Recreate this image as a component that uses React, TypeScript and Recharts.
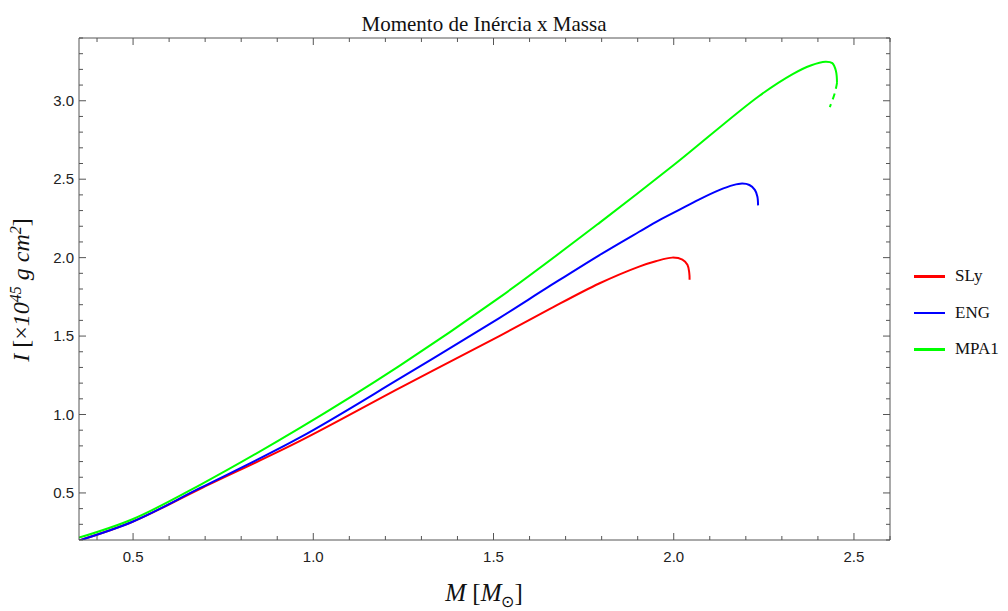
import React from 'react';
import { LineChart, Line, XAxis, YAxis, Label } from 'recharts';

// Tick values (major ticks carry labels)
const xTicks = [0.4, 0.5, 0.6, 0.7, 0.8, 0.9, 1.0, 1.1, 1.2, 1.3, 1.4, 1.5, 1.6, 1.7, 1.8, 1.9, 2.0, 2.1, 2.2, 2.3, 2.4, 2.5, 2.6];
const xMajor = [0.5, 1.0, 1.5, 2.0, 2.5];
const yTicks = [0.2, 0.3, 0.4, 0.5, 0.6, 0.7, 0.8, 0.9, 1.0, 1.1, 1.2, 1.3, 1.4, 1.5, 1.6, 1.7, 1.8, 1.9, 2.0, 2.1, 2.2, 2.3, 2.4, 2.5, 2.6, 2.7, 2.8, 2.9, 3.0, 3.1, 3.2, 3.3, 3.4];
const yMajor = [0.5, 1.0, 1.5, 2.0, 2.5, 3.0];

// SLy
const slyMass = [0.35, 0.5, 0.685, 0.962, 1.239, 1.516, 1.65, 1.793, 1.904, 1.95, 1.996, 2.024, 2.038, 2.043, 2.044];
const slyInertia = [0.197, 0.318, 0.525, 0.83, 1.168, 1.5, 1.665, 1.835, 1.943, 1.977, 2.0, 1.988, 1.955, 1.905, 1.859];

// ENG
const engMass = [0.35, 0.5, 0.685, 0.962, 1.239, 1.516, 1.65, 1.793, 1.904, 1.959, 2.015, 2.07, 2.126, 2.165, 2.19, 2.21, 2.225, 2.232, 2.234];
const engInertia = [0.197, 0.318, 0.53, 0.852, 1.228, 1.615, 1.81, 2.015, 2.165, 2.238, 2.305, 2.37, 2.43, 2.462, 2.472, 2.463, 2.432, 2.39, 2.333];

// MPA1
const mpaMass = [0.35, 0.5, 0.685, 0.962, 1.239, 1.516, 1.793, 2.0, 2.236, 2.33, 2.38, 2.421, 2.44, 2.45, 2.453];
const mpaInertia = [0.215, 0.334, 0.55, 0.913, 1.31, 1.745, 2.22, 2.59, 3.029, 3.17, 3.225, 3.249, 3.24, 3.19, 3.114];
// MPA1 dashed tail
const mpaTailMass = [2.453, 2.447, 2.433];
const mpaTailInertia = [3.114, 3.05, 2.959];

const legendNames = ['SLy', 'ENG', 'MPA1'];
const colors = ['#ff0000', '#0000ff', '#00ff00'];

const zip = (ms: number[], is: number[]) => ms.map((m, k) => ({ m, i: is[k] }));
const slyData = zip(slyMass, slyInertia);
const engData = zip(engMass, engInertia);
const mpaData = zip(mpaMass, mpaInertia);
const mpaTail = zip(mpaTailMass, mpaTailInertia);

// Centripetal Catmull-Rom curve factory (works for parametric curves that turn back)
function centripetal(context: any) {
  let pts: number[][] = [];
  return {
    areaStart() {},
    areaEnd() {},
    lineStart() {
      pts = [];
    },
    point(x: number, y: number) {
      pts.push([+x, +y]);
    },
    lineEnd() {
      const n = pts.length;
      if (!n) return;
      context.moveTo(pts[0][0], pts[0][1]);
      if (n === 1) return;
      if (n === 2) {
        context.lineTo(pts[1][0], pts[1][1]);
        return;
      }
      const dist = (a: number[], b: number[]) => Math.sqrt(Math.hypot(b[0] - a[0], b[1] - a[1]));
      for (let k = 0; k < n - 1; k++) {
        const p0 = pts[k === 0 ? 0 : k - 1];
        const p1 = pts[k];
        const p2 = pts[k + 1];
        const p3 = pts[k + 2 < n ? k + 2 : n - 1];
        const l01 = dist(p0, p1);
        const l12 = dist(p1, p2);
        const l23 = dist(p2, p3);
        let c1x = p1[0], c1y = p1[1], c2x = p2[0], c2y = p2[1];
        if (l01 > 1e-9) {
          const a = 2 * l01 * l01 + 3 * l01 * l12 + l12 * l12;
          const m = 3 * l01 * (l01 + l12);
          c1x = (p1[0] * a - p0[0] * l12 * l12 + p2[0] * l01 * l01) / m;
          c1y = (p1[1] * a - p0[1] * l12 * l12 + p2[1] * l01 * l01) / m;
        }
        if (l23 > 1e-9) {
          const b = 2 * l23 * l23 + 3 * l23 * l12 + l12 * l12;
          const m = 3 * l23 * (l23 + l12);
          c2x = (p2[0] * b + p1[0] * l23 * l23 - p3[0] * l12 * l12) / m;
          c2y = (p2[1] * b + p1[1] * l23 * l23 - p3[1] * l12 * l12) / m;
        }
        context.bezierCurveTo(c1x, c1y, c2x, c2y, p2[0], p2[1]);
      }
    },
  };
}

const FRAME = '#555';
const isIn = (v: number, arr: number[]) => arr.some((a) => Math.abs(a - v) < 1e-6);

const makeTick = (orient: string, majors: number[]) => (props: any) => {
  const { x, y, payload } = props;
  const v = payload.value;
  const major = isIn(v, majors);
  const len = major ? 7 : 4;
  let line = null;
  let text = null;
  const tstyle = { fontFamily: '"Liberation Sans", Arial, sans-serif', fontSize: 15, fill: '#222' };
  if (orient === 'bottom') {
    line = <line x1={x} y1={y} x2={x} y2={y - len} stroke={FRAME} strokeWidth={1} />;
    if (major) text = <text x={x} y={y + 22} textAnchor="middle" style={tstyle}>{v.toFixed(1)}</text>;
  } else if (orient === 'top') {
    line = <line x1={x} y1={y} x2={x} y2={y + len} stroke={FRAME} strokeWidth={1} />;
  } else if (orient === 'left') {
    line = <line x1={x} y1={y} x2={x + len} y2={y} stroke={FRAME} strokeWidth={1} />;
    if (major) text = <text x={x - 5} y={y + 5} textAnchor="end" style={tstyle}>{v.toFixed(1)}</text>;
  } else {
    line = <line x1={x} y1={y} x2={x - len} y2={y} stroke={FRAME} strokeWidth={1} />;
  }
  return (
    <g>
      {line}
      {text}
    </g>
  );
};

const serif = '"Liberation Serif", "Times New Roman", serif';

export default function App() {
  return (
    <div style={{ position: 'relative', width: 1000, height: 603 }}>
      <LineChart width={1000} height={603} margin={{ top: 22, right: 110, bottom: 21, left: 11 }}>
        <XAxis
          xAxisId="b"
          dataKey="m"
          type="number"
          domain={[0.35, 2.6]}
          ticks={xTicks}
          interval={0}
          allowDataOverflow
          height={50}
          tickSize={0}
          tickMargin={0}
          tickLine={false}
          axisLine={{ stroke: FRAME, strokeWidth: 1 }}
          tick={makeTick('bottom', xMajor)}
        >
          <Label
            content={() => (
              <text x={476} y={593} textAnchor="middle" style={{ fontFamily: serif, fontSize: 25, fill: '#111' }}>
                <tspan fontStyle="italic">M</tspan>
                <tspan> [</tspan>
                <tspan fontStyle="italic">M</tspan>
                <tspan dy={6} fontSize={16}>⊙</tspan>
                <tspan dy={-6}>]</tspan>
              </text>
            )}
          />
        </XAxis>
        <XAxis
          xAxisId="t"
          orientation="top"
          dataKey="m"
          type="number"
          domain={[0.35, 2.6]}
          ticks={xTicks}
          interval={0}
          allowDataOverflow
          height={8}
          tickSize={0}
          tickMargin={0}
          tickLine={false}
          axisLine={{ stroke: FRAME, strokeWidth: 1 }}
          tick={makeTick('top', xMajor)}
        >
          <Label
            content={() => (
              <text x={476} y={23} textAnchor="middle" style={{ fontFamily: serif, fontSize: 21, fill: '#111' }}>
                Momento de Inércia x Massa
              </text>
            )}
          />
        </XAxis>
        <YAxis
          yAxisId="l"
          dataKey="i"
          type="number"
          domain={[0.2, 3.4]}
          ticks={yTicks}
          interval={0}
          allowDataOverflow
          width={60}
          tickSize={0}
          tickMargin={0}
          tickLine={false}
          axisLine={{ stroke: FRAME, strokeWidth: 1 }}
          tick={makeTick('left', yMajor)}
        >
          <Label
            content={() => (
              <text
                x={21}
                y={282}
                textAnchor="middle"
                transform="rotate(-90 21 282)"
                style={{ fontFamily: serif, fontSize: 24, fill: '#111' }}
              >
                <tspan fontStyle="italic">I</tspan>
                <tspan>  [×</tspan>
                <tspan fontStyle="italic">10</tspan>
                <tspan dy={-8} fontSize={16} fontStyle="italic">45</tspan>
                <tspan dy={8} fontStyle="italic"> g cm</tspan>
                <tspan dy={-8} fontSize={16} fontStyle="italic">2</tspan>
                <tspan dy={8}>]</tspan>
              </text>
            )}
          />
        </YAxis>
        <YAxis
          yAxisId="r"
          orientation="right"
          dataKey="i"
          type="number"
          domain={[0.2, 3.4]}
          ticks={yTicks}
          interval={0}
          allowDataOverflow
          width={8}
          tickSize={0}
          tickMargin={0}
          tickLine={false}
          axisLine={{ stroke: FRAME, strokeWidth: 1 }}
          tick={makeTick('right', yMajor)}
        />
        <Line xAxisId="b" yAxisId="l" data={slyData} dataKey="i" type={centripetal as any} stroke={colors[0]} strokeWidth={2} dot={false} isAnimationActive={false} />
        <Line xAxisId="b" yAxisId="l" data={engData} dataKey="i" type={centripetal as any} stroke={colors[1]} strokeWidth={2} dot={false} isAnimationActive={false} />
        <Line xAxisId="b" yAxisId="l" data={mpaData} dataKey="i" type={centripetal as any} stroke={colors[2]} strokeWidth={2} dot={false} isAnimationActive={false} />
        <Line xAxisId="b" yAxisId="l" data={mpaTail} dataKey="i" type={centripetal as any} stroke={colors[2]} strokeWidth={2} strokeDasharray="6 5" dot={false} isAnimationActive={false} />
      </LineChart>
      <div style={{ position: 'absolute', left: 906, top: 250, fontFamily: serif, fontSize: 17, color: '#111' }}>
        {legendNames.map((n, k) => (
          <div key={n} style={{ display: 'flex', alignItems: 'center', height: 36.5 }}>
            <div style={{ width: 31, height: 2.5, background: colors[k], marginRight: 10 }} />
            <span>{n}</span>
          </div>
        ))}
      </div>
    </div>
  );
}
